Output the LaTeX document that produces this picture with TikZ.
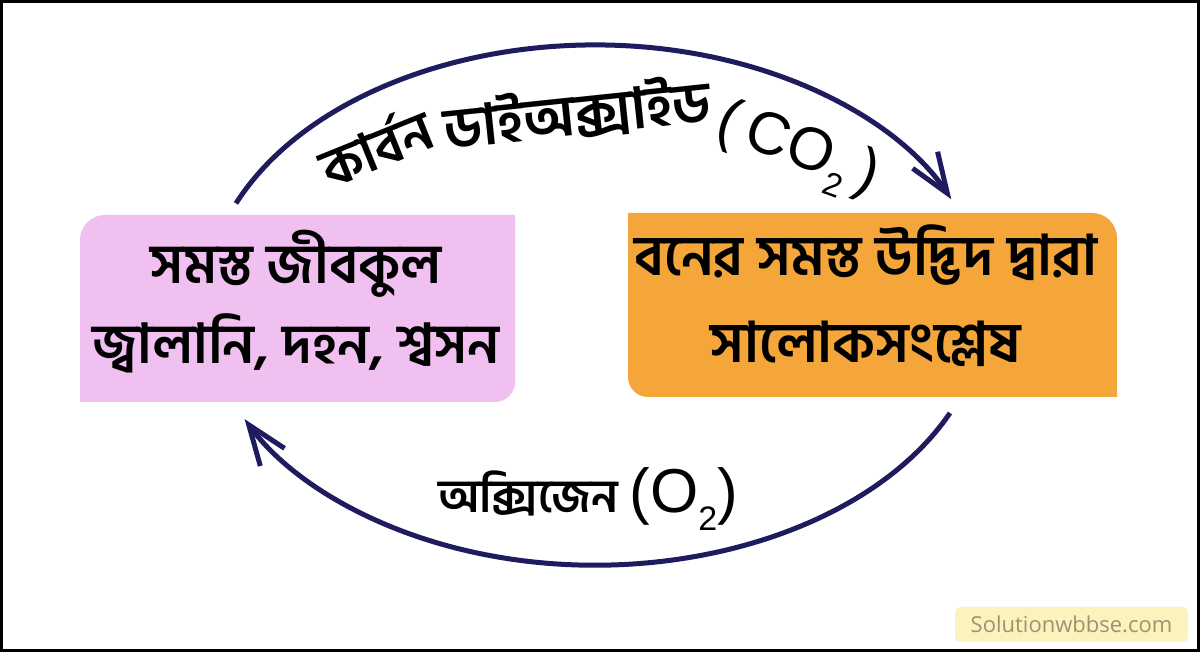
\documentclass[tikz,border=0pt]{standalone}
\usepackage{fontspec}
\newfontfamily\bn[Script=Bengali]{Hind Siliguri}
\newfontfamily\lat{Liberation Sans}
\newfontfamily\wm{Open Sans}
\usetikzlibrary{arrows.meta}
\definecolor{pinkbox}{RGB}{240,192,240}
\definecolor{orangebox}{RGB}{245,166,58}
\definecolor{arcc}{RGB}{30,27,94}
\definecolor{wmfill}{RGB}{252,242,190}
\definecolor{wmtext}{RGB}{155,148,112}
\begin{document}
\begin{tikzpicture}[x=1pt,y=1pt,
  boxtext/.style={align=center, inner sep=0pt},
  arctext/.style={font=\bn\bfseries\fontsize{54}{60}\selectfont, inner sep=0pt},
  cycarrow/.style={draw=arcc, line width=5pt, -{Straight Barb[length=40pt,width=30pt,line width=5pt]}}
]
\useasboundingbox (0,0) rectangle (1200,652);
\fill[white] (0,0) rectangle (1200,652);
% boxes
\fill[pinkbox] (80,250) -- (80,412) arc[start angle=180,end angle=90,radius=25] -- (515,437) -- (515,270) arc[start angle=0,end angle=-90,radius=20] -- cycle;
\fill[orangebox] (628,439) -- (1092,439) arc[start angle=90,end angle=0,radius=25] -- (1117,255) -- (648,255) arc[start angle=270,end angle=180,radius=20] -- cycle;
\node[boxtext, font=\bn\bfseries\fontsize{55}{80}\selectfont] (L) at (296,350) {সমস্ত জীবকুল\\জ্বালানি, দহন, শ্বসন};
\node[boxtext, font=\bn\bfseries\fontsize{56}{87}\selectfont] (R) at (866,356) {বনের সমস্ত উদ্ভিদ দ্বারা\\সালোকসংশ্লেষ};
% arcs
\coordinate (a1) at (236,448.6);
\coordinate (a3) at (950,239);
\draw[cycarrow] (a1) arc[start angle=157,end angle=24,x radius=390,y radius=260];
\draw[cycarrow] (a3) arc[start angle=-24.5,end angle=-154,x radius=390,y radius=260];
% arc labels
\node[arctext, rotate=22] (t1) at (375,506) {কার্বন};
\node[arctext, rotate=6, font=\bn\bfseries\fontsize{57}{60}\selectfont] (t2) at (577,539) {ডাইঅক্সাইড};
\node[arctext, rotate=-20, font=\lat\fontsize{60}{64}\selectfont] (t3) at (797,500) {(\,CO\raisebox{-17pt}{\fontsize{33}{35}\selectfont 2}\,)};
\node[arctext, font=\bn\bfseries\fontsize{46}{50}\selectfont, anchor=base] (t4) at (588,139) {অক্সিজেন {\lat\mdseries\fontsize{62}{64}\selectfont (O\raisebox{-18pt}{\fontsize{34}{36}\selectfont 2})}};
% watermark
\node[fill=wmfill, rounded corners=5pt, minimum width=233pt, minimum height=35pt, inner sep=0pt, font=\wm\fontsize{22}{24}\selectfont, text=wmtext] (wm) at (1071.5,27.5) {Solutionwbbse.com};
% frame
\draw[line width=3pt] (1.5,1.5) rectangle (1198.5,650.5);
\end{tikzpicture}
\end{document}
